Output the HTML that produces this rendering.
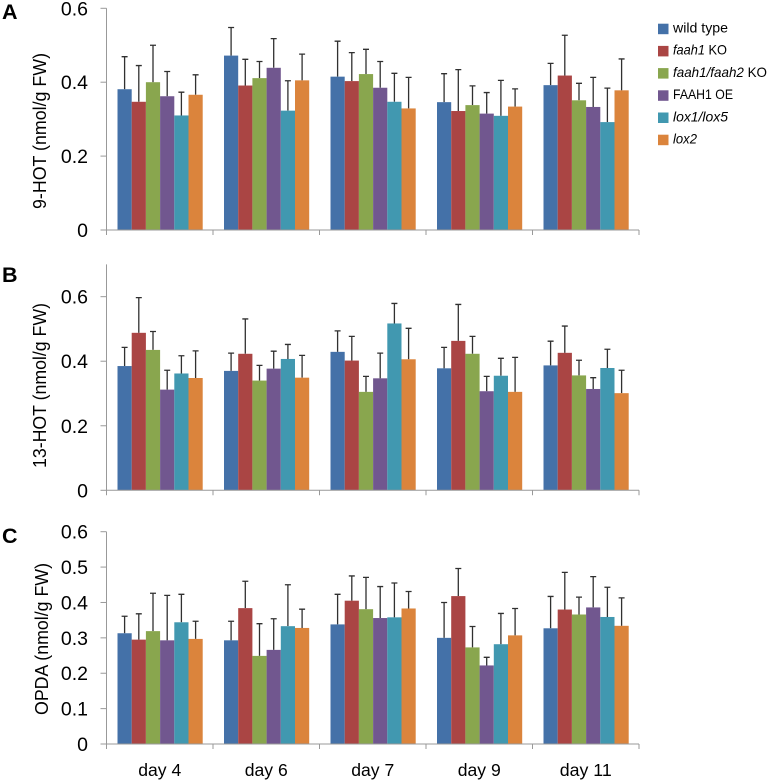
<!DOCTYPE html>
<html lang="en">
<head>
<meta charset="utf-8">
<title>Oxylipin levels by genotype and day</title>
<style>
html,body{margin:0;padding:0;background:#fff;}
svg{display:block;font-family:"Liberation Sans",sans-serif;filter:blur(0.3px);}
</style>
</head>
<body>
<svg id="figure" width="768" height="781" viewBox="0 0 768 781" xmlns="http://www.w3.org/2000/svg"></svg>
<script>
const days = ['day 4', 'day 6', 'day 7', 'day 9', 'day 11'];
const dayLabelWidths = [43, 43, 43, 43, 52];
const seriesNames = ['wild type', 'faah1 KO', 'faah1/faah2 KO', 'FAAH1 OE', 'lox1/lox5', 'lox2'];

const hot9Ticks = [0, 0.2, 0.4, 0.6];
const hot9WildType = [.381, .472, .415, .346, .392];
const hot9WildTypeErr = [.088, .076, .096, .077, .059];
const hot9Faah1 = [.347, .391, .403, .322, .418];
const hot9Faah1Err = [.098, .071, .077, .112, .109];
const hot9Faah1Faah2 = [.400, .411, .422, .338, .351];
const hot9Faah1Faah2Err = [.100, .045, .067, .052, .046];
const hot9Faah1Oe = [.362, .439, .385, .315, .333];
const hot9Faah1OeErr = [.067, .079, .071, .057, .080];
const hot9Lox1Lox5 = [.310, .323, .347, .309, .292];
const hot9Lox1Lox5Err = [.063, .081, .077, .096, .092];
const hot9Lox2 = [.366, .405, .329, .334, .378];
const hot9Lox2Err = [.054, .071, .084, .048, .085];

const hot13Ticks = [0, 0.2, 0.4, 0.6];
const hot13WildType = [.385, .370, .429, .378, .387];
const hot13WildTypeErr = [.058, .055, .065, .065, .075];
const hot13Faah1 = [.488, .423, .402, .463, .426];
const hot13Faah1Err = [.109, .108, .075, .113, .083];
const hot13Faah1Faah2 = [.435, .340, .305, .423, .356];
const hot13Faah1Faah2Err = [.057, .047, .048, .054, .047];
const hot13Faah1Oe = [.312, .377, .347, .307, .314];
const hot13Faah1OeErr = [.060, .054, .078, .046, .035];
const hot13Lox1Lox5 = [.362, .407, .517, .355, .379];
const hot13Lox1Lox5Err = [.055, .045, .062, .054, .058];
const hot13Lox2 = [.348, .349, .406, .305, .301];
const hot13Lox2Err = [.084, .069, .096, .107, .071];

const opdaTicks = [0, 0.1, 0.2, 0.3, 0.4, 0.5, 0.6];
const opdaWildType = [.313, .293, .338, .300, .327];
const opdaWildTypeErr = [.048, .054, .085, .100, .090];
const opdaFaah1 = [.295, .384, .405, .418, .380];
const opdaFaah1Err = [.073, .076, .070, .078, .105];
const opdaFaah1Faah2 = [.319, .249, .381, .273, .366];
const opdaFaah1Faah2Err = [.107, .091, .090, .059, .049];
const opdaFaah1Oe = [.293, .266, .356, .222, .386];
const opdaFaah1OeErr = [.127, .088, .089, .023, .087];
const opdaLox1Lox5 = [.344, .333, .358, .282, .359];
const opdaLox1Lox5Err = [.079, .117, .097, .087, .084];
const opdaLox2 = [.297, .328, .383, .307, .334];
const opdaLox2Err = [.050, .053, .048, .076, .079];

const svg = document.getElementById('figure');
const NS = 'http://www.w3.org/2000/svg';
const colors = ['#4471a8', '#aa4544', '#89a64e', '#71578f', '#4198b0', '#db843c'];
const axisLeft = 106.5, groupWidth = 106.5, barWidth = 14.2, barInset = 11;

function make(tag, attrs, parent) {
  const el = document.createElementNS(NS, tag);
  for (const k in attrs) el.setAttribute(k, attrs[k]);
  (parent || svg).appendChild(el);
  return el;
}

function legendLabel(parent, name, x, y, width) {
  const t = make('text', {x: x, y: y, 'font-size': 14, fill: '#000', textLength: width, lengthAdjust: 'spacingAndGlyphs'}, parent);
  const parts = name.match(/^(faah1\/faah2|faah1|lox1\/lox5|lox2)(.*)$/);
  if (parts) {
    const i = make('tspan', {'font-style': 'italic'}, t);
    i.textContent = parts[1];
    if (parts[2]) {
      const r = make('tspan', {}, t);
      r.textContent = parts[2];
    }
  } else {
    t.textContent = name;
  }
  return t;
}

function drawPanel(p) {
  const g = make('g', {});
  
  
  const yScale = v => p.y0 - (v / p.max) * (p.y0 - p.yTop);
  const xBar = (d, s) => axisLeft + d * groupWidth + barInset + s * barWidth;

  const letter = make('text', {x: 2, y: p.letterY, 'font-size': 21.5, 'font-weight': 'bold', fill: '#000'}, g);
  
  
  letter.textContent = p.letter;

  p.means.forEach((vals, s) => {
    vals.forEach((v, d) => {
      const top = yScale(v);
      const cx = xBar(d, s) + barWidth / 2;
      const capY = yScale(v + p.errs[s][d]);
      const err = make('path', {d: 'M' + cx + ' ' + top + 'V' + capY + 'M' + (cx - 3) + ' ' + capY + 'H' + (cx + 3), stroke: '#303030', 'stroke-width': 1.3, fill: 'none'}, g);
      
      
      const bar = make('rect', {x: xBar(d, s), y: top, width: barWidth, height: p.y0 - top, fill: colors[s]}, g);
      
      
    });
  });

  const yAxis = make('line', {x1: axisLeft, x2: axisLeft, y1: yScale(p.max), y2: p.y0, stroke: '#999', 'stroke-width': 1}, g);
  
  
  const xAxis = make('line', {x1: axisLeft, x2: axisLeft + groupWidth * days.length, y1: p.y0, y2: p.y0, stroke: '#999', 'stroke-width': 1}, g);
  
  

  p.ticks.forEach(v => {
    const y = yScale(v);
    const tick = make('line', {x1: axisLeft - 6, x2: axisLeft, y1: y, y2: y, stroke: '#999', 'stroke-width': 1}, g);
    
    
    const label = make('text', {x: 88, y: y + 7, 'font-size': 19.5, 'text-anchor': 'end', fill: '#000'}, g);
    
    
    label.textContent = String(v);
  });

  for (let d = 0; d <= days.length; d++) {
    const x = axisLeft + d * groupWidth;
    const tick = make('line', {x1: x, x2: x, y1: p.y0, y2: p.y0 + 5, stroke: '#999', 'stroke-width': 1}, g);
    
    
  }

  const title = make('text', {transform: 'translate(' + p.titleX + ' ' + p.titleY + ') rotate(-90)', 'font-size': 18.5, fill: '#000', textLength: p.titleLen, lengthAdjust: 'spacingAndGlyphs'}, g);
  
  
  title.textContent = p.title;
}

drawPanel({
  letter: 'A', letterY: 19, title: '9-HOT (nmol/g FW)',
  titleX: 46, titleY: 209, titleLen: 156,
  y0: 230, yTop: 8.3, max: 0.6, ticks: hot9Ticks,
  means: [hot9WildType, hot9Faah1, hot9Faah1Faah2, hot9Faah1Oe, hot9Lox1Lox5, hot9Lox2],
  errs: [hot9WildTypeErr, hot9Faah1Err, hot9Faah1Faah2Err, hot9Faah1OeErr, hot9Lox1Lox5Err, hot9Lox2Err]
});
drawPanel({
  letter: 'B', letterY: 282, title: '13-HOT (nmol/g FW)',
  titleX: 46, titleY: 468, titleLen: 165,
  y0: 490.3, yTop: 264.4, max: 0.7, ticks: hot13Ticks,
  means: [hot13WildType, hot13Faah1, hot13Faah1Faah2, hot13Faah1Oe, hot13Lox1Lox5, hot13Lox2],
  errs: [hot13WildTypeErr, hot13Faah1Err, hot13Faah1Faah2Err, hot13Faah1OeErr, hot13Lox1Lox5Err, hot13Lox2Err]
});
drawPanel({
  letter: 'C', letterY: 543, title: 'OPDA (nmol/g FW)',
  titleX: 48, titleY: 715, titleLen: 152,
  y0: 744, yTop: 531.7, max: 0.6, ticks: opdaTicks,
  means: [opdaWildType, opdaFaah1, opdaFaah1Faah2, opdaFaah1Oe, opdaLox1Lox5, opdaLox2],
  errs: [opdaWildTypeErr, opdaFaah1Err, opdaFaah1Faah2Err, opdaFaah1OeErr, opdaLox1Lox5Err, opdaLox2Err]
});

days.forEach((day, d) => {
  const label = make('text', {x: axisLeft + (d + 0.5) * groupWidth, y: 776, 'font-size': 17.5, 'text-anchor': 'middle', fill: '#000', textLength: dayLabelWidths[d], lengthAdjust: 'spacingAndGlyphs'});
  
  
  label.textContent = day;
});

const legend = make('g', {});


const legendWidths = [55, 54, 94, 60, 55, 24];
seriesNames.forEach((name, s) => {
  const entry = make('g', {}, legend);
  
  
  const rowY = 29 + s * 22.2;
  make('rect', {x: 658, y: rowY - 5.3, width: 10.5, height: 10.5, fill: colors[s]}, entry);
  legendLabel(entry, name, 673, rowY + 3.5, legendWidths[s]);
});
</script>
</body>
</html>
